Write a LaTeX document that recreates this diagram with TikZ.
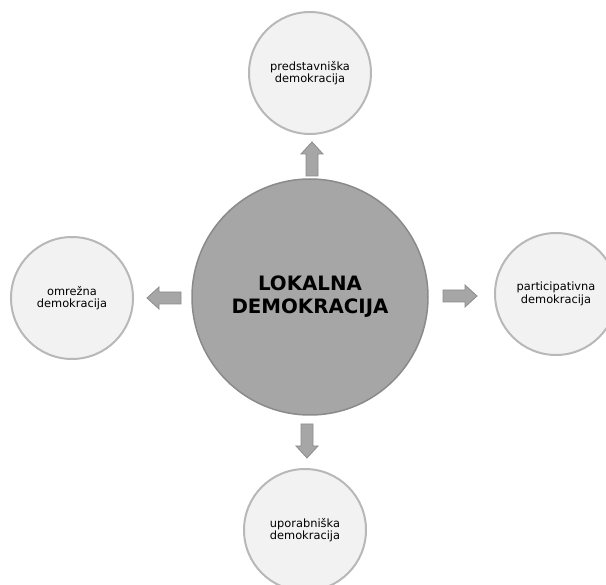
\documentclass[tikz,border=0pt]{standalone}
\usepackage{fontspec}
\setmainfont{DejaVu Sans}
\definecolor{hubfill}{HTML}{A6A6A6}
\definecolor{hubline}{HTML}{8A8A8A}
\definecolor{leaffill}{HTML}{F2F2F2}
\definecolor{leafline}{HTML}{B8B8B8}
\definecolor{arrfill}{HTML}{A6A6A6}
\definecolor{arrline}{HTML}{8C8C8C}
\tikzset{
  hub/.style={circle, draw=hubline, fill=hubfill, line width=1.5pt,
    minimum size=236pt, inner sep=0pt, align=center,
    font=\bfseries\fontsize{19.8}{23}\selectfont},
  leaf/.style={circle, draw=leafline, fill=leaffill, line width=2pt,
    minimum size=122pt, inner sep=0pt, align=center,
    font=\fontsize{11.4}{12.5}\selectfont},
  blockarrow/.pic={
    \filldraw[fill=arrfill, draw=arrline, line width=0.8pt]
      (-17,-6) -- (5,-6) -- (5,-11) -- (17,0) -- (5,11) -- (5,6) -- (-17,6) -- cycle;
  }
}
\begin{document}
\begin{tikzpicture}[x=1pt, y=-1pt]
  \useasboundingbox (0,0) rectangle (606,585);
  \clip (0,0) rectangle (606,585);
  % central and surrounding circles
  \node[hub]  (hub)   at (310,297) {LOKALNA\\DEMOKRACIJA};
  \node[leaf] (top)   at (310,73)  {predstavniška\\demokracija};
  \node[leaf] (left)  at (72,298)  {omrežna\\demokracija};
  \node[leaf] (right) at (556,294) {participativna\\demokracija};
  \node[leaf] (bot)   at (305,530) {uporabniška\\demokracija};
  % block arrows pointing outwards from the hub
  \coordinate (aup)    at (312,159);
  \coordinate (aleft)  at (164,298);
  \coordinate (aright) at (460,296);
  \coordinate (adown)  at (307,441);
  \pic[rotate=90]  at (aup)    {blockarrow};
  \pic[rotate=180] at (aleft)  {blockarrow};
  \pic             at (aright) {blockarrow};
  \pic[rotate=270] at (adown)  {blockarrow};
\end{tikzpicture}
\end{document}
